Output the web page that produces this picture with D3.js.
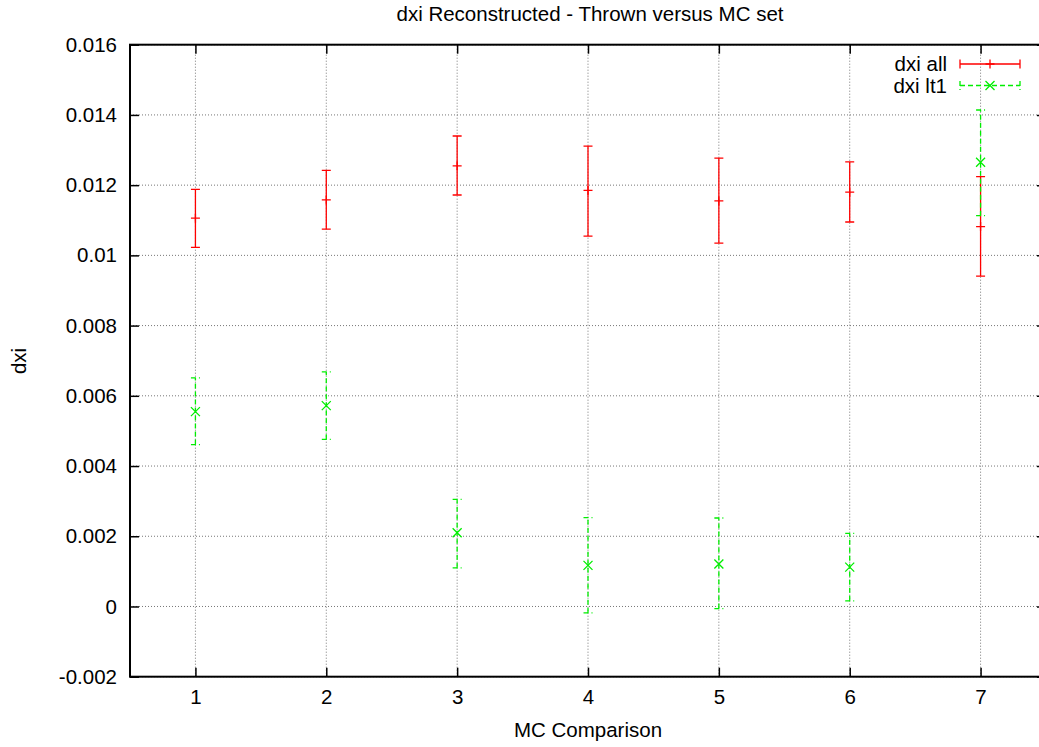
<!DOCTYPE html>
<html lang="en">
<head>
  <meta charset="UTF-8">
  <title>dxi Reconstructed - Thrown versus MC set</title>
  <style>
    html,
    body {
      margin: 0;
      background: #fff;
      overflow: hidden;
    }

    svg {
      display: block;
      font-family: "Liberation Sans", Arial, sans-serif;
    }
  </style>
</head>
<body>
  <div id="chart"></div>

  <script src="https://cdn.jsdelivr.net/npm/d3@7"></script>
  <script>
    // data
    const comparisons = [1, 2, 3, 4, 5, 6, 7]
    const allValue = [0.01106, 0.01158, 0.01255, 0.01185, 0.01155, 0.01180, 0.01082]
    const allLow = [0.01023, 0.01075, 0.01172, 0.01055, 0.01035, 0.01095, 0.00941]
    const allHigh = [0.01188, 0.01242, 0.01340, 0.01311, 0.01277, 0.01266, 0.01224]
    const lt1Value = [0.00555, 0.00572, 0.00210, 0.00117, 0.00121, 0.00112, 0.01265]
    const lt1Low = [0.00461, 0.00476, 0.00110, -0.00018, -0.00006, 0.00016, 0.01113]
    const lt1High = [0.00651, 0.00668, 0.00305, 0.00253, 0.00252, 0.00208, 0.01414]

    const xTicks = [1, 2, 3, 4, 5, 6, 7]
    const yTicks = [-0.002, 0, 0.002, 0.004, 0.006, 0.008, 0.01, 0.012, 0.014, 0.016]
    const yTickLabels = ['-0.002', '0', '0.002', '0.004', '0.006', '0.008', '0.01', '0.012', '0.014', '0.016']
    const seriesNames = ['dxi all', 'dxi lt1']

    const width = 1039
    const height = 747
    const margin = { top: 44.7, bottom: 70.3, left: 130, right: -7 }
    const fontSize = '20.5px'

    const x = d3.scaleLinear()
      .domain([0.5, 7.5])
      .range([margin.left, width - margin.right])

    const y = d3.scaleLinear()
      .domain([-0.002, 0.016])
      .range([height - margin.bottom, margin.top])

    const series = [
      {
        name: seriesNames[0], color: '#ff0000', dash: null, marker: 'plus',
        points: comparisons.map((c, i) => ({ c, v: allValue[i], lo: allLow[i], hi: allHigh[i] }))
      },
      {
        name: seriesNames[1], color: '#00ee00', dash: '5,3', marker: 'cross',
        points: comparisons.map((c, i) => ({ c, v: lt1Value[i], lo: lt1Low[i], hi: lt1High[i] }))
      }
    ]

    const svg = d3.select('#chart').append('svg')
      .attr('width', width)
      .attr('height', height)

    const x0 = x.range()[0], x1 = x.range()[1]
    const y0 = y.range()[0], y1 = y.range()[1]

    // grid
    const grid = svg.append('g')
      .attr('stroke', '#777')
      .attr('stroke-width', 1)
      .attr('stroke-dasharray', '1,2')
    grid.selectAll('.gx').data(xTicks).join('line')
      .attr('x1', d => x(d)).attr('x2', d => x(d))
      .attr('y1', y0).attr('y2', y1)
    grid.selectAll('.gy').data(yTicks).join('line')
      .attr('y1', d => y(d)).attr('y2', d => y(d))
      .attr('x1', x0).attr('x2', x1)

    // axes with inward ticks
    function styleAxis(g) {
      g.select('.domain').remove()
      g.selectAll('.tick line').attr('stroke', '#000').attr('stroke-width', 1.5)
      g.selectAll('.tick text')
        .attr('fill', '#000')
        .style('font-size', fontSize)
        .style('font-family', '"Liberation Sans", Arial, sans-serif')
    }

    svg.append('g')
      .attr('transform', `translate(${x0},0)`)
      .call(d3.axisLeft(y).tickValues(yTicks).tickSize(-9).tickPadding(13)
        .tickFormat((d, i) => yTickLabels[i]))
      .call(styleAxis)

    svg.append('g')
      .attr('transform', `translate(${x1},0)`)
      .call(d3.axisRight(y).tickValues(yTicks).tickSize(-9).tickFormat(''))
      .call(styleAxis)

    svg.append('g')
      .attr('transform', `translate(0,${y0})`)
      .call(d3.axisBottom(x).tickValues(xTicks).tickSize(-9).tickPadding(13).tickFormat(d3.format('d')))
      .call(styleAxis)
      .selectAll('.tick text').attr('dy', '0.71em')

    svg.append('g')
      .attr('transform', `translate(0,${y1})`)
      .call(d3.axisTop(x).tickValues(xTicks).tickSize(-9).tickFormat(''))
      .call(styleAxis)

    // border
    svg.append('rect')
      .attr('x', x0).attr('y', y1)
      .attr('width', x1 - x0).attr('height', y0 - y1)
      .attr('fill', 'none')
      .attr('stroke', '#000')
      .attr('stroke-width', 2)

    const cap = 4.5
    const mk = 4.5

    function drawMarker(g, type, cx, cy, color) {
      const p = type === 'plus'
        ? `M${cx - mk},${cy}H${cx + mk}M${cx},${cy - mk}V${cy + mk}`
        : `M${cx - mk},${cy - mk}L${cx + mk},${cy + mk}M${cx - mk},${cy + mk}L${cx + mk},${cy - mk}`
      g.append('path').attr('d', p).attr('stroke', color).attr('stroke-width', 1.3).attr('fill', 'none')
    }

    // series with error bars
    series.forEach(s => {
      const g = svg.append('g')
      const bars = g.selectAll('g.bar').data(s.points).join('g').attr('class', 'bar')
      bars.append('path')
        .attr('d', d => `M${x(d.c)},${y(d.lo)}V${y(d.hi)}` +
          `M${x(d.c) - cap},${y(d.hi)}H${x(d.c) + cap}` +
          `M${x(d.c) - cap},${y(d.lo)}H${x(d.c) + cap}`)
        .attr('stroke', s.color)
        .attr('stroke-width', 1.3)
        .attr('stroke-dasharray', s.dash)
        .attr('fill', 'none')
      s.points.forEach(d => drawMarker(g, s.marker, x(d.c), y(d.v), s.color))
    })

    // legend
    const legend = svg.append('g')
    series.forEach((s, i) => {
      const ly = 64 + i * 21.5
      legend.append('text')
        .attr('x', 947).attr('y', ly)
        .attr('dy', '0.36em')
        .attr('text-anchor', 'end')
        .style('font-size', fontSize)
        .text(s.name)
      legend.append('path')
        .attr('d', `M960,${ly}H1020M960,${ly - cap}V${ly + cap}M1020,${ly - cap}V${ly + cap}`)
        .attr('stroke', s.color)
        .attr('stroke-width', 1.3)
        .attr('stroke-dasharray', s.dash)
        .attr('fill', 'none')
      drawMarker(legend, s.marker, 990, ly, s.color)
    })

    // titles
    svg.append('text')
      .attr('x', 590).attr('y', 20.5)
      .attr('text-anchor', 'middle')
      .style('font-size', fontSize)
      .text('dxi Reconstructed - Thrown versus MC set')

    svg.append('text')
      .attr('x', 588).attr('y', 737)
      .attr('text-anchor', 'middle')
      .style('font-size', fontSize)
      .text('MC Comparison')

    svg.append('text')
      .attr('transform', 'translate(26,361) rotate(-90)')
      .attr('text-anchor', 'middle')
      .style('font-size', fontSize)
      .text('dxi')
  </script>
</body>
</html>
